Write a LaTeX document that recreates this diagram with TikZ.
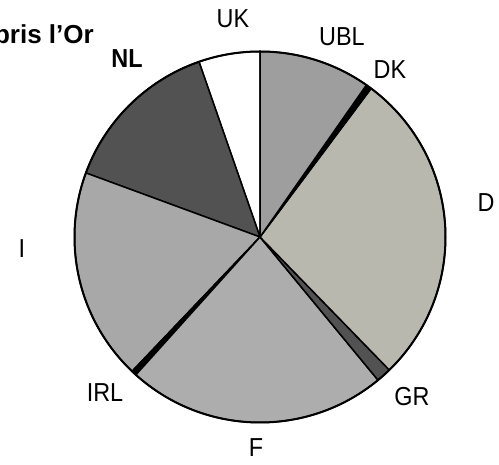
\documentclass[tikz,border=0pt]{standalone}
\usepackage{fontspec}
\setmainfont{Liberation Sans}
\newfontfamily\labfont[FakeStretch=0.9]{Liberation Sans}
\definecolor{ublc}{gray}{0.62}
\definecolor{dc}{RGB}{184,184,174}
\definecolor{fc}{gray}{0.68}
\definecolor{ic}{gray}{0.66}
\definecolor{nlc}{gray}{0.32}
\definecolor{grc}{gray}{0.32}
\begin{document}
\begin{tikzpicture}[x=1pt,y=1pt,
  lab/.style={font=\labfont\fontsize{26}{26}\selectfont, inner sep=0pt},
  border/.style={draw=black, line width=1.5pt, line join=round}]
\useasboundingbox (0,0) rectangle (499,465);
\coordinate (c) at (260,228);
\def\R{185.5}
\newcommand\slicepie[3]{%
  \filldraw[border, fill=#3] (c) -- ++(#1:\R) arc[start angle=#1, end angle=#2, radius=\R] -- cycle;}
\slicepie{90}{109.2}{white}
\slicepie{109.2}{159.8}{nlc}
\slicepie{159.8}{226.4}{ic}
\slicepie{226.4}{228.0}{black}
\slicepie{228.0}{309.5}{fc}
\slicepie{309.5}{314.2}{grc}
\slicepie{-45.8}{53.2}{dc}
\slicepie{53.2}{55.0}{black}
\slicepie{55.0}{90}{ublc}
\draw[line width=2pt] (c) circle[radius=\R];
\node[anchor=base east, inner sep=0pt, font=\bfseries\fontsize{26}{26}\selectfont] (title) at (94,421) {pris l’Or};
\node[lab] (uk) at (233,446) {UK};
\node[lab] (ubl) at (342,428) {UBL};
\node[lab] (dk) at (390,395) {DK};
\node[lab] (d) at (486,262) {D};
\node[lab] (gr) at (412,68) {GR};
\node[lab] (f) at (256,17) {F};
\node[lab] (irl) at (105,72) {IRL};
\node[lab] (i) at (22,216) {I};
\node[lab, font=\labfont\bfseries\fontsize{26}{26}\selectfont] (nl) at (127,406) {NL};
\end{tikzpicture}
\end{document}
